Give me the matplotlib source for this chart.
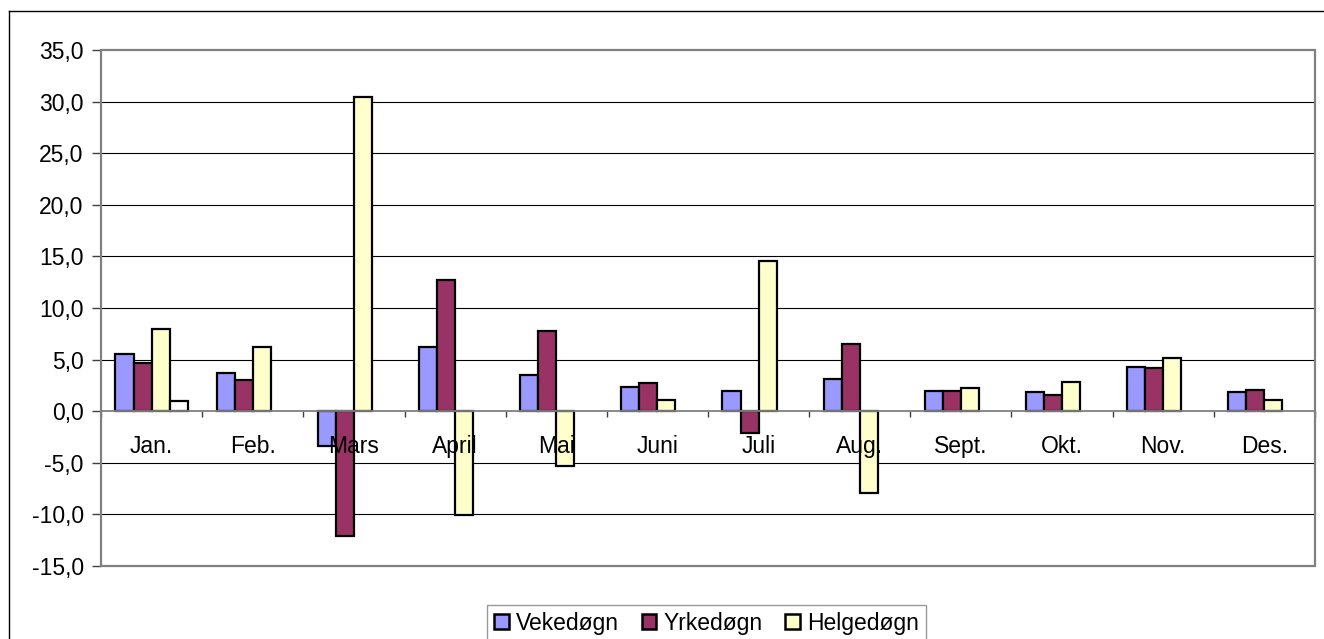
#!/usr/bin/env python

import numpy as np
import matplotlib.pyplot as plt
from matplotlib.lines import Line2D
from matplotlib.patches import Patch, Rectangle
from matplotlib.ticker import FuncFormatter, MultipleLocator

plt.rcParams['font.family'] = ['Liberation Sans', 'DejaVu Sans']

months = ['Jan.', 'Feb.', 'Mars', 'April', 'Mai', 'Juni', 'Juli', 'Aug.',
          'Sept.', 'Okt.', 'Nov.', 'Des.']
vekedogn = [5.5, 3.7, -3.4, 6.2, 3.5, 2.3, 2.0, 3.1, 2.0, 1.9, 4.3, 1.9]
yrkedogn = [4.7, 3.0, -12.1, 12.7, 7.8, 2.7, -2.1, 6.5, 2.0, 1.6, 4.2, 2.1]
helgedogn = [8.0, 6.2, 30.4, -10.1, -5.3, 1.1, 14.6, -7.9, 2.2, 2.8, 5.2, 1.1]
extra = [1.0] + [np.nan] * 11   # fourth series, only Jan., not in legend

series = [('Vekedøgn', vekedogn, '#9999ff'),
          ('Yrkedøgn', yrkedogn, '#993366'),
          ('Helgedøgn', helgedogn, '#ffffcc'),
          ('', extra, '#ffffff')]

fig = plt.figure(figsize=(13.24, 6.39), dpi=100)
ax = fig.add_axes([101/1324, 1-566/639, (1315-101)/1324, (566-50)/639])

x = np.arange(len(months))
w = 1/5.6
off = (1 - 4*w)/2
for k, (name, vals, col) in enumerate(series):
    ax.bar(x + off + k*w, vals, width=w, align='edge', color=col,
           edgecolor='black', linewidth=1.6, zorder=1)

ax.set_xlim(0, 12)
ax.set_ylim(-15, 35)
ax.yaxis.set_major_locator(MultipleLocator(5))
ax.yaxis.set_major_formatter(FuncFormatter(lambda v, p: f'{v:.1f}'.replace('.', ',')))
for t in np.arange(-10, 35, 5):
    if t != 0:
        ax.axhline(t, color='black', lw=0.8, zorder=0.5)

# category axis at zero
gray = '#808080'
for s in ['left', 'right', 'top']:
    ax.spines[s].set_color(gray)
    ax.spines[s].set_linewidth(1.3)
ax.spines['bottom'].set_position(('data', 0))
ax.spines['bottom'].set_color(gray)
ax.spines['bottom'].set_linewidth(1.3)
ax.add_patch(Rectangle((0, 0), 1, 1, transform=ax.transAxes, fill=False,
                       edgecolor=gray, lw=1.6, zorder=3, clip_on=False))

ax.set_xticks(np.arange(13))
ax.set_xticklabels([])
ax.set_xticks(x + 0.5, minor=True)
ax.set_xticklabels(months, minor=True)
ax.tick_params(axis='x', which='major', direction='out', length=4.5, width=1,
               color='#404040')
ax.tick_params(axis='x', which='minor', length=0, pad=17, labelsize=16.5)
ax.tick_params(axis='y', direction='out', length=6.5, width=1, color='#404040',
               pad=6, labelsize=16.5)

handles = [Patch(facecolor=c, edgecolor='black', lw=1.8, label=n)
           for n, v, c in series[:3]]
fig.legend(handles=handles, loc='upper left', bbox_to_anchor=(487/1324, 1-605/639),
           ncol=3, fontsize=16.5, frameon=True, fancybox=False, edgecolor=gray,
           handlelength=0.65, handleheight=0.65, handletextpad=0.3,
           columnspacing=1.0, borderpad=0.3, borderaxespad=0)

# outer chart border (cut off at right and bottom)
fig.add_artist(Line2D([8.5/1324, 8.5/1324], [0, 1-11/639], color='black', lw=1))
fig.add_artist(Line2D([8.5/1324, 1], [1-11/639, 1-11/639], color='black', lw=1))

fig.savefig('out.png', dpi=100)
